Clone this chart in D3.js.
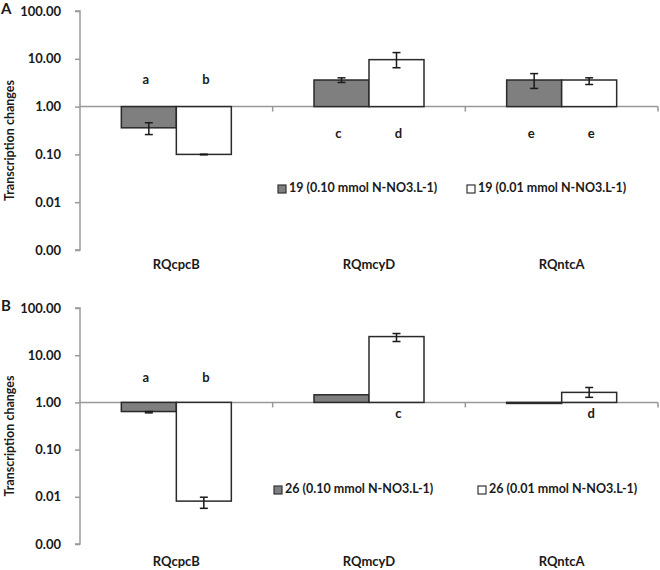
<!DOCTYPE html>
<html><head><meta charset="utf-8">
<script src="https://cdn.jsdelivr.net/npm/d3@7"></script>
<style>body{margin:0;background:#fff}svg{display:block}text{font-family:Lato,"Open Sans",sans-serif;font-weight:bold;fill:#1a1a1a}</style>
</head><body><svg id="c" width="660" height="570"></svg>
<script>
const categories = ["RQcpcB", "RQmcyD", "RQntcA"];
const yTicks = [0.001, 0.01, 0.1, 1, 10, 100];
// Panel A
const aSeries = ["19 (0.10 mmol N-NO3.L-1)", "19 (0.01 mmol N-NO3.L-1)"];
const aHigh  = [0.36, 3.6, 3.6];
const aLow   = [0.10, 9.6, 3.6];
const aHighErrLo = [0.26, 3.2, 2.4];
const aHighErrHi = [0.46, 4.0, 4.9];
const aLowErrLo  = [0.098, 6.5, 2.9];
const aLowErrHi  = [0.101, 13.5, 4.0];
const aLetters = [["a", "b"], ["c", "d"], ["e", "e"]];
// Panel B
const bSeries = ["26 (0.10 mmol N-NO3.L-1)", "26 (0.01 mmol N-NO3.L-1)"];
const bHigh  = [0.64, 1.45, 0.95];
const bLow   = [0.0081, 24.8, 1.63];
const bHighErrLo = [0.6, null, null];
const bHighErrHi = [0.64, null, null];
const bLowErrLo  = [0.0057, 19.5, 1.28];
const bLowErrHi  = [0.0098, 28.8, 2.07];
const bLetters = [["a", "b"], [null, "c"], [null, "d"]];

const svg = d3.select("#c");
const fills = ["#7f7f7f", "#ffffff"];

function panel(cfg) {
  const g = svg.append("g");
  const y = d3.scaleLog().domain([0.001, 100]).range([cfg.bottom, cfg.top]);
  const x = d3.scaleBand().domain(categories).range([80, 658]);
  const x1 = d3.scaleBand().domain([0, 1]).range([x.bandwidth()/2 - 55, x.bandwidth()/2 + 55]);

  const ax = g.append("g").attr("transform", "translate(80,0)")
    .call(d3.axisLeft(y).tickValues(yTicks).tickFormat(d3.format(".2f")).tickSize(5).tickPadding(14));
  ax.selectAll("path,line").attr("stroke", "#999").attr("stroke-width", 1.5);
  ax.select("path").attr("d", `M-5,${cfg.top}H0V${cfg.bottom}H-5`);
  ax.selectAll("text").attr("font-size", 13).attr("fill", "#1a1a1a").style("font-family", "Lato").style("font-weight", "bold");

  // baseline at 1
  const base = g.append("g").attr("transform", `translate(0,${y(1)})`)
    .call(d3.axisBottom(x).tickSize(5).tickFormat(""));
  base.select("path").attr("stroke", "#999").attr("stroke-width", 1.5).attr("d", `M80,0H658`);
  base.selectAll(".tick").remove();
  [x("RQmcyD"), x("RQntcA"), 658].forEach(p => g.append("line").attr("x1", p).attr("x2", p)
    .attr("y1", y(1)).attr("y2", y(1) + 5).attr("stroke", "#999").attr("stroke-width", 1.5));

  const series = [cfg.high, cfg.low];
  const elo = [cfg.hErrLo, cfg.lErrLo], ehi = [cfg.hErrHi, cfg.lErrHi];
  series.forEach((vals, s) => {
    g.selectAll(null).data(vals).join("rect")
      .attr("x", (d, i) => x(categories[i]) + x1(s))
      .attr("width", x1.bandwidth())
      .attr("y", d => Math.min(y(d), y(1)))
      .attr("height", d => Math.max(1, Math.abs(y(d) - y(1))))
      .attr("fill", fills[s]).attr("stroke", "#2a2a2a").attr("stroke-width", 1.5);
  });
  series.forEach((vals, s) => {
    vals.forEach((v, i) => {
      const lo = elo[s][i], hi = ehi[s][i];
      if (lo == null) return;
      const cx = x(categories[i]) + x1(s) + x1.bandwidth()/2;
      const eg = g.append("g").attr("stroke", "#1a1a1a").attr("stroke-width", 1.5);
      eg.append("line").attr("x1", cx).attr("x2", cx).attr("y1", y(lo)).attr("y2", y(hi));
      eg.append("line").attr("x1", cx - 4).attr("x2", cx + 4).attr("y1", y(lo)).attr("y2", y(lo));
      eg.append("line").attr("x1", cx - 4).attr("x2", cx + 4).attr("y1", y(hi)).attr("y2", y(hi));
    });
  });
  cfg.letters.forEach((pair, i) => pair.forEach((t, s) => {
    if (!t) return;
    const v = series[s][i];
    g.append("text").attr("x", x(categories[i]) + x1(s) + x1.bandwidth()/2 + (s === 0 ? -3 : 2))
      .attr("y", v < 1 ? y(1) - cfg.above : y(1) + cfg.below)
      .attr("text-anchor", "middle").attr("dominant-baseline", "middle")
      .attr("font-size", 13).text(t);
  }));
  categories.forEach(c => g.append("text").attr("x", x(c) + x.bandwidth()/2).attr("y", cfg.catY)
    .attr("text-anchor", "middle").attr("dominant-baseline", "middle").attr("font-size", 13).text(c));

  // legend
  cfg.series.forEach((name, s) => {
    const lx = cfg.legX[s];
    g.append("rect").attr("x", lx).attr("y", cfg.legY - 4).attr("width", 8).attr("height", 8)
      .attr("fill", fills[s]).attr("stroke", "#333").attr("stroke-width", 1.2);
    g.append("text").attr("x", lx + 11).attr("y", cfg.legY).attr("dominant-baseline", "middle")
      .attr("font-size", 12.5).text(name);
  });

  g.append("text").attr("transform", `translate(11,${(cfg.top + cfg.bottom)/2 + 10}) rotate(-90)`)
    .attr("text-anchor", "middle").attr("dominant-baseline", "middle").attr("font-size", 12.5)
    .text("Transcription changes");
  g.append("text").attr("x", 1).attr("y", cfg.top + 3)
    .attr("font-size", 15).text(cfg.label);
}

panel({label: "A", top: 11, bottom: 250, series: aSeries, high: aHigh, low: aLow,
  hErrLo: aHighErrLo, hErrHi: aHighErrHi, lErrLo: aLowErrLo, lErrHi: aLowErrHi,
  letters: aLetters, above: 26, below: 28, catY: 266, legX: [278, 467], legY: 189});
panel({label: "B", top: 308, bottom: 544, series: bSeries, high: bHigh, low: bLow,
  hErrLo: bHighErrLo, hErrHi: bHighErrHi, lErrLo: bLowErrLo, lErrHi: bLowErrHi,
  letters: bLetters, above: 24, below: 12, catY: 563, legX: [274, 478], legY: 490});
</script></body></html>
